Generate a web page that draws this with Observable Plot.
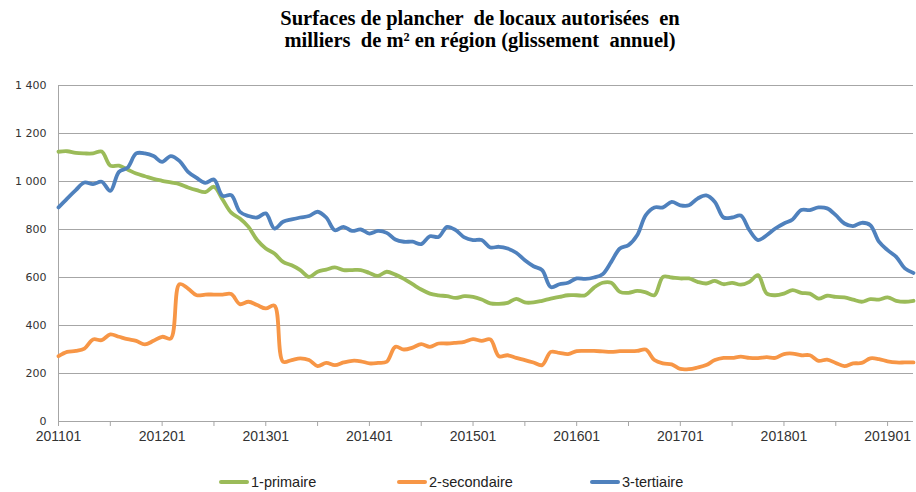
<!DOCTYPE html>
<html>
<head>
<meta charset="utf-8">
<script src="https://cdn.jsdelivr.net/npm/d3@7"></script>
<script src="https://cdn.jsdelivr.net/npm/@observablehq/plot@0.6"></script>
<style>
  html, body { margin: 0; padding: 0; background: #fff; }
  #wrap { position: relative; width: 916px; height: 492px; overflow: hidden; }
  #title { position: absolute; left: 0; top: 7px; width: 916px; padding-left: 44px; box-sizing: border-box;
    text-align: center; font-family: "Liberation Serif", "Times New Roman", serif; font-weight: bold;
    font-size: 20.5px; line-height: 22px; color: #000; white-space: pre; }
  #chart { position: absolute; left: 0; top: 62px; }
  .leg { position: absolute; top: 472px; height: 20px; display: flex; align-items: center;
    font-family: "Liberation Sans", Arial, sans-serif; font-size: 14.5px; color: #222; }
  .sw { width: 30px; height: 4px; border-radius: 2px; margin-right: 2px; }
</style>
</head>
<body>
<div id="wrap">
  <div id="title"></div>
  <div id="chart"></div>
  <div id="legend"></div>
</div>
<script>
const titleLines = ["Surfaces de plancher  de locaux autorisées  en", "milliers  de m² en région (glissement  annuel)"];
const seriesNames = ["1-primaire", "2-secondaire", "3-tertiaire"];
const seriesColors = ["#9bbb59", "#f79646", "#4f81bd"];

// Monthly values, 201101 .. 201904 (100 months)
const primaire = [
  1124,1126,1119,1117,1117,1125,1066,1066,1050,1033,1022,1011,
  1003,996,989,975,964,956,978,925,870,846,811,756,
  721,700,665,651,631,603,624,633,642,631,631,631,
  619,607,624,612,594,572,550,533,526,522,515,522,
  519,508,492,490,494,511,496,496,503,512,519,526,
  526,526,558,578,578,540,536,544,538,526,603,600,
  596,596,582,575,586,572,578,570,582,610,533,526,
  533,547,536,533,512,524,519,517,508,499,510,508,
  517,503,499,503
];
const secondaire = [
  272,290,294,304,342,339,363,353,343,336,321,336,
  353,346,572,554,526,529,529,529,531,489,499,485,
  471,483,249,256,263,256,231,244,235,246,253,251,
  242,244,249,311,300,308,322,311,325,325,328,332,
  343,336,342,272,276,265,256,246,235,290,286,281,
  293,294,294,292,290,293,293,294,300,256,242,238,
  219,218,225,235,256,265,265,270,265,264,268,265,
  281,283,276,276,253,258,244,231,242,244,263,260,
  251,246,246,246
];
const tertiaire = [
  892,929,964,996,989,999,961,1040,1058,1117,1117,1106,
  1082,1106,1086,1040,1015,994,1008,940,943,874,856,850,
  867,804,832,842,850,856,874,850,797,811,794,800,
  783,794,786,758,749,749,739,772,769,811,797,767,
  756,756,725,728,721,703,672,647,631,560,572,578,
  596,594,600,614,665,721,735,776,860,892,892,915,
  901,901,929,942,915,850,850,858,797,756,776,804,
  825,842,881,881,892,888,860,825,814,828,818,749,
  714,686,638,619
];
const xTickLabels = ["201101","201201","201301","201401","201501","201601","201701","201801","201901"];
const yTicks = [0,200,400,600,800,1000,1200,1400];
const yTickLabels = ["0","200","400","600","800","1 000","1 200","1 400"];

document.getElementById("title").textContent = titleLines.join("\n");

const seriesValues = [primaire, secondaire, tertiaire];
const rows = [];
seriesValues.forEach((vals, s) => vals.forEach((v, i) => rows.push({i, v, s: seriesNames[s]})));

const xTicks = d3.range(0, 97, 6);

const chart = Plot.plot({
  width: 916,
  height: 389,
  marginLeft: 58,
  marginRight: 3,
  marginTop: 23,
  marginBottom: 30,
  style: {fontFamily: "Liberation Sans, Arial, sans-serif", color: "#333", background: "#fff"},
  x: {type: "linear", domain: [0, 99]},
  y: {domain: [0, 1400]},
  color: {domain: seriesNames, range: seriesColors},
  marks: [
    Plot.ruleY(yTicks.slice(1), {stroke: "#a6a6a6", strokeWidth: 1}),
    Plot.ruleX([0], {stroke: "#a6a6a6", strokeWidth: 1}),
    Plot.ruleY([0], {stroke: "#a6a6a6", strokeWidth: 1}),
    Plot.axisY({ticks: yTicks, tickSize: 0, tickPadding: 12, fontSize: 11,
      fontFamily: "DejaVu Sans, sans-serif",
      tickFormat: d => yTickLabels[yTicks.indexOf(d)], label: null}),
    Plot.axisX({ticks: xTicks, tickSize: 5, tickPadding: 5, fontSize: 14, stroke: "#a6a6a6",
      tickFormat: d => (d % 12 === 0 ? xTickLabels[d / 12] : ""), label: null}),
    Plot.line(rows, {x: "i", y: "v", stroke: "s", z: "s", strokeWidth: 3.8, curve: "catmull-rom"})
  ]
});
document.getElementById("chart").appendChild(chart);

const legendPos = [[219, 251], [397, 428], [590, 619]];
const legend = document.getElementById("legend");
seriesNames.forEach((name, k) => {
  const item = document.createElement("div");
  item.className = "leg";
  item.style.left = legendPos[k][0] + "px";
  const sw = document.createElement("div");
  sw.className = "sw";
  sw.style.background = seriesColors[k];
  const t = document.createElement("span");
  t.textContent = name;
  item.appendChild(sw);
  item.appendChild(t);
  legend.appendChild(item);
});
</script>
</body>
</html>
